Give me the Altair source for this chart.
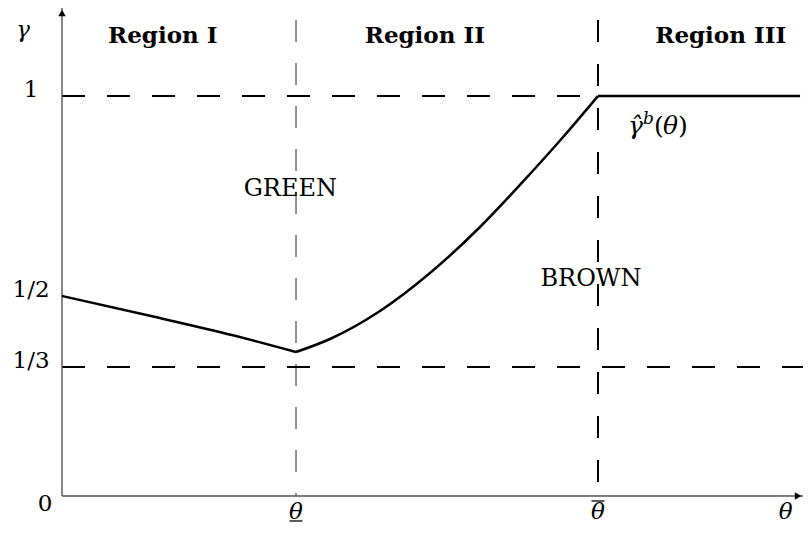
import altair as alt
import pandas as pd

# ---- values (schematic units: theta_bar = 1) ----
THETA_LO = 0.4366          # underline-theta
THETA_HI = 1.0             # overline-theta
GAMMA_ONE = 1.0
GAMMA_THIRD = 0.3225       # drawn position of the "1/3" line
X_MAX = 1.3825
Y_MAX = 1.22
V_TOP = 1.19               # top of the vertical dashed lines

seg1_theta = [0.0, 0.164, 0.319, 0.4366]
seg1_gamma = [0.5, 0.4505, 0.4017, 0.36]
seg2_theta = [0.4366, 0.5, 0.5933, 0.6866, 0.7799, 0.8731, 0.9366, 1.0]
seg2_gamma = [0.36, 0.3925, 0.4625, 0.5575, 0.6725, 0.805, 0.9, 1.0]
seg3_theta = [1.0, 1.377]
seg3_gamma = [1.0, 1.0]

y_tick_values = [0.3225, 0.5, 1.0]
y_tick_labels = ["1/3", "1/2", "1"]
x_tick_values = [THETA_LO, THETA_HI]
x_tick_labels = ["θ", "θ"]

region_names = ["Region I", "Region II", "Region III"]
region_theta = [0.188, 0.677, 1.229]
region_gamma = [1.1325, 1.1325, 1.1325]

note_names = ["GREEN", "BROWN"]
note_theta = [0.426, 0.987]
note_gamma = [0.75, 0.525]

curve_label_theta = 1.056
curve_label_gamma = 0.905

# ---- tables ----
curve = pd.DataFrame({
    "theta": seg1_theta + seg2_theta + seg3_theta,
    "gamma": seg1_gamma + seg2_gamma + seg3_gamma,
    "seg": ["a"] * len(seg1_theta) + ["b"] * len(seg2_theta) + ["c"] * len(seg3_theta),
})
hlines = pd.DataFrame({"theta": [0.0, 0.0], "theta2": [THETA_HI, X_MAX],
                       "gamma": [GAMMA_ONE, GAMMA_THIRD]})
vline_hi = pd.DataFrame({"theta": [THETA_HI], "gamma": [V_TOP], "gamma2": [0.0]})
vline_lo = pd.DataFrame({"theta": [THETA_LO], "gamma": [V_TOP], "gamma2": [0.0]})
yax = pd.DataFrame({"theta": [0.0], "gamma": [0.0], "gamma2": [Y_MAX]})
xax = pd.DataFrame({"theta": [0.0], "theta2": [X_MAX], "gamma": [0.0]})
ytk = pd.DataFrame({"theta": [0.0] * 3, "gamma": y_tick_values, "label": y_tick_labels})
xtk = pd.DataFrame({"theta": x_tick_values, "gamma": [0.0, 0.0], "label": x_tick_labels})
under = pd.DataFrame({"theta": [THETA_LO], "gamma": [0.0]})
over = pd.DataFrame({"theta": [THETA_HI], "gamma": [0.0]})
regions = pd.DataFrame({"theta": region_theta, "gamma": region_gamma, "label": region_names})
notes = pd.DataFrame({"theta": note_theta, "gamma": note_gamma, "label": note_names})
clab = pd.DataFrame({"theta": [curve_label_theta], "gamma": [curve_label_gamma]})
origin = pd.DataFrame({"theta": [0.0], "gamma": [0.0], "label": ["0"]})
ytitle = pd.DataFrame({"theta": [0.0], "gamma": [Y_MAX], "label": ["γ"]})
xtitle = pd.DataFrame({"theta": [1.35], "gamma": [0.0], "label": ["θ"]})
yarrow = pd.DataFrame({"theta": [0.0], "gamma": [Y_MAX]})
xarrow = pd.DataFrame({"theta": [X_MAX], "gamma": [0.0]})

xs = alt.Scale(domain=[0, X_MAX], nice=False, zero=False)
ys = alt.Scale(domain=[0, Y_MAX], nice=False, zero=False)
X = alt.X("theta:Q", scale=xs, axis=None)
Y = alt.Y("gamma:Q", scale=ys, axis=None)

SERIF = "DejaVu Serif"

axis_y = alt.Chart(yax).mark_rule(color="#555555", strokeWidth=1.4).encode(X, Y, y2="gamma2:Q")
axis_x = alt.Chart(xax).mark_rule(color="#555555", strokeWidth=1.4).encode(X, Y, x2="theta2:Q")
arrow_y = alt.Chart(yarrow).mark_point(shape="triangle-up", filled=True, size=55, color="black",
                                       opacity=1, yOffset=5).encode(X, Y)
arrow_x = alt.Chart(xarrow).mark_point(shape="triangle-right", filled=True, size=55, color="black",
                                       opacity=1, xOffset=-5).encode(X, Y)

h = alt.Chart(hlines).mark_rule(color="black", strokeWidth=2, strokeDash=[23, 22]).encode(X, Y, x2="theta2:Q")
vh = alt.Chart(vline_hi).mark_rule(color="black", strokeWidth=2, strokeDash=[22, 22]).encode(X, Y, y2="gamma2:Q")
vl = alt.Chart(vline_lo).mark_rule(color="#3a3a3a", strokeWidth=1.1, strokeDash=[22, 21]).encode(X, Y, y2="gamma2:Q")

line = alt.Chart(curve).mark_line(color="black", strokeWidth=2.5, interpolate="monotone").encode(
    X, Y, detail="seg:N")

t_regions = alt.Chart(regions).mark_text(font=SERIF, fontSize=23, fontWeight="bold",
                                         baseline="alphabetic", color="black").encode(X, Y, text="label:N")
t_notes = alt.Chart(notes).mark_text(font=SERIF, fontSize=24, baseline="alphabetic",
                                     color="black").encode(X, Y, text="label:N")
# curve label: gamma-hat, superscript b, (theta)
t_c1 = alt.Chart(clab).mark_text(font=SERIF, fontSize=25, fontStyle="italic", align="left",
                                 baseline="alphabetic", color="black").encode(X, Y, text=alt.value("γ\u0302"))
t_c2 = alt.Chart(clab).mark_text(font=SERIF, fontSize=17, fontStyle="italic", align="left",
                                 baseline="alphabetic", dx=15, dy=-10, color="black").encode(X, Y, text=alt.value("b"))
t_c3 = alt.Chart(clab).mark_text(font=SERIF, fontSize=25, align="left",
                                 baseline="alphabetic", dx=26, color="black").encode(X, Y, text=alt.value("("))
t_c4 = alt.Chart(clab).mark_text(font=SERIF, fontSize=25, fontStyle="italic", align="left",
                                 baseline="alphabetic", dx=35, color="black").encode(X, Y, text=alt.value("θ"))
t_c5 = alt.Chart(clab).mark_text(font=SERIF, fontSize=25, align="left",
                                 baseline="alphabetic", dx=50, color="black").encode(X, Y, text=alt.value(")"))

t_ytk = alt.Chart(ytk).mark_text(font=SERIF, fontSize=23, align="center", baseline="middle",
                                 dx=-31, dy=-6, color="black").encode(X, Y, text="label:N")
t_origin = alt.Chart(origin).mark_text(font=SERIF, fontSize=23, align="center", baseline="middle",
                                       dx=-17, dy=8, color="black").encode(X, Y, text="label:N")
t_xtk = alt.Chart(xtk).mark_text(font=SERIF, fontSize=23, fontStyle="italic", align="center",
                                 baseline="middle", dy=16, color="black").encode(X, Y, text="label:N")
t_under = alt.Chart(under).mark_tick(orient="horizontal", size=13, thickness=1.3, color="black",
                                     opacity=1, yOffset=25).encode(X, Y)
t_over = alt.Chart(over).mark_tick(orient="horizontal", size=13, thickness=1.3, color="black",
                                   opacity=1, yOffset=5).encode(X, Y)
t_ytitle = alt.Chart(ytitle).mark_text(font=SERIF, fontSize=23, fontStyle="italic", align="center",
                                       baseline="middle", dx=-39, dy=22, color="black").encode(X, Y, text="label:N")
t_xtitle = alt.Chart(xtitle).mark_text(font=SERIF, fontSize=23, fontStyle="italic", align="center",
                                       baseline="middle", dy=16, color="black").encode(X, Y, text="label:N")

chart = alt.layer(
    vl, vh, h, axis_y, axis_x, arrow_y, arrow_x, line,
    t_regions, t_notes, t_c1, t_c2, t_c3, t_c4, t_c5,
    t_ytk, t_origin, t_xtk, t_under, t_over, t_ytitle, t_xtitle,
).properties(
    width=741, height=488,
    padding={"left": 54, "top": 0, "right": 0, "bottom": 27},
    autosize=alt.AutoSizeParams(type="none"),
    background="white",
).configure_view(stroke=None)

chart.save("out.html", embed_options={"renderer": "svg", "actions": False})
